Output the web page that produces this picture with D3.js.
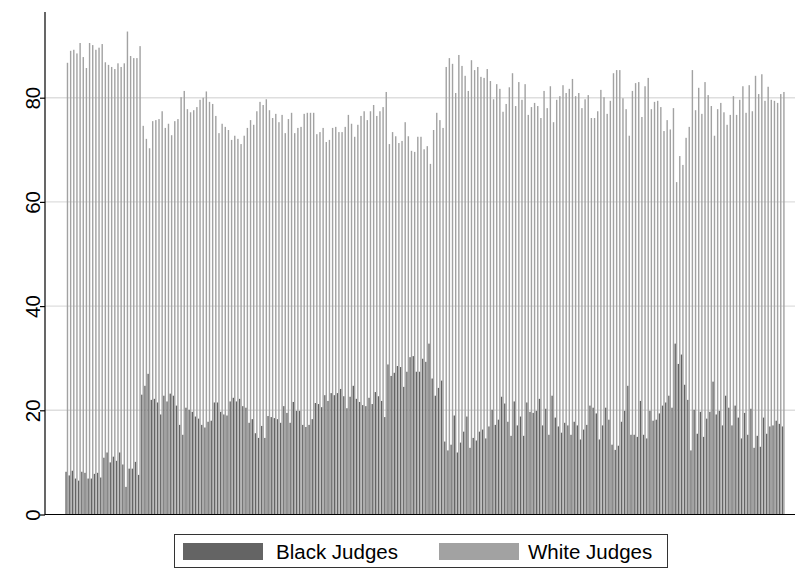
<!DOCTYPE html>
<html>
<head>
<meta charset="utf-8">
<script src="https://cdn.jsdelivr.net/npm/d3@7/dist/d3.min.js"></script>
<style>
  html, body { margin: 0; padding: 0; background: #fff; }
  svg { display: block; font-family: "Liberation Sans", Arial, Helvetica, sans-serif; }
</style>
</head>
<body>
<svg id="chart" width="795" height="570"></svg>
<script>
// ---- data ----
const seriesNames = ["Black Judges", "White Judges"];
const yTicks = [0, 20, 40, 60, 80];

const blackJudges = [
  8.2, 7.5, 8.4, 6.9, 6.5, 8.2, 8.0, 6.9, 6.9, 7.8,
  8.0, 7.1, 10.9, 11.9, 10.0, 11.1, 10.3, 11.9, 9.6, 5.3,
  8.8, 8.8, 10.1, 7.6, 23.0, 24.7, 27.0, 22.0, 22.2, 21.5,
  19.2, 22.8, 21.7, 23.2, 22.8, 20.9, 17.2, 15.3, 20.5, 20.1,
  19.7, 18.8, 18.4, 17.2, 16.7, 17.8, 18.0, 21.5, 21.5, 19.7,
  19.2, 19.0, 21.7, 22.4, 21.7, 22.2, 20.8,
  20.5, 17.6, 18.3, 15.6, 14.7, 17.0, 14.7, 18.9, 18.7, 18.5,
  18.3, 17.6, 20.8, 19.5, 17.6, 21.6, 19.9, 19.9, 17.2, 16.8,
  17.2, 18.3, 21.4, 21.2, 20.6, 22.9, 21.8, 23.3, 22.9, 23.3,
  24.1, 22.7, 20.4, 22.6, 24.7, 22.2, 21.6, 21.0, 20.8, 22.4,
  21.2, 23.5, 22.7, 21.8, 18.7, 28.8, 26.6, 27.2, 28.5, 28.3,
  24.5, 27.4, 30.2, 30.4, 27.4, 27.4, 29.9,
  29.3, 32.8, 26.1, 22.8, 24.3, 25.7, 14.0, 12.3, 13.4, 19.0,
  11.9, 13.8, 15.9, 18.8, 12.8, 14.7, 14.2, 15.9, 16.3, 14.6,
  16.9, 20.1, 17.2, 18.2, 22.6, 21.3, 17.8, 15.1, 21.7, 17.1,
  18.8, 15.1, 21.5, 19.7, 19.5, 19.9, 22.2, 17.1, 20.3, 15.3,
  22.8, 18.6, 16.9, 15.7, 17.6, 17.1, 15.3, 17.8, 17.1, 14.4,
  16.3, 17.2, 20.9, 20.5, 19.4, 14.4, 17.1,
  20.5, 18.2, 13.4, 12.4, 13.2, 17.8, 19.9, 24.7, 15.3, 15.3,
  14.9, 21.8, 15.3, 14.6, 19.9, 18.0, 18.2, 19.4, 20.9, 21.5,
  22.8, 20.5, 32.8, 28.9, 30.7, 24.9, 22.0, 12.3, 20.1, 15.5,
  19.7, 14.9, 18.4, 19.7, 25.5, 19.2, 19.9, 17.1, 22.8, 20.5,
  17.1, 20.9, 18.6, 14.6, 19.5, 15.3, 20.3, 12.8, 15.1, 13.0,
  18.6, 15.5, 16.9, 17.1, 18.0, 17.4, 16.9
];

const whiteJudges = [
  86.7, 89.0, 89.2, 88.5, 90.5, 87.8, 85.7, 90.5, 90.1, 89.2,
  89.6, 90.3, 86.8, 86.3, 85.9, 85.5, 86.6, 85.9, 86.6, 92.7,
  88.0, 87.6, 87.6, 89.9, 74.6, 72.1, 70.3, 75.5, 75.7, 75.9,
  77.4, 74.2, 75.0, 72.8, 75.5, 75.9, 80.1, 81.3, 77.8, 77.2,
  77.6, 78.2, 79.6, 80.0, 81.2, 79.2, 78.8, 76.5, 73.2, 75.0,
  74.4, 73.8, 71.9, 72.7, 72.1, 71.1, 72.7,
  74.2, 75.7, 74.8, 77.4, 79.2, 78.6, 79.7, 77.6, 76.1, 76.9,
  75.3, 76.7, 73.2, 75.9, 77.1, 73.2, 74.2, 74.4, 76.9, 77.1,
  77.1, 77.1, 73.0, 73.4, 74.2, 71.5, 71.9, 74.2, 74.4, 73.4,
  73.4, 74.4, 76.7, 75.0, 72.5, 74.8, 76.5, 77.4, 75.7, 77.4,
  78.6, 76.5, 77.4, 78.2, 81.1, 71.1, 73.4, 72.6, 71.3, 71.7,
  75.3, 72.6, 69.8, 69.6, 72.5, 72.5, 70.1,
  70.7, 67.3, 73.8, 77.1, 75.7, 74.2, 85.9, 87.6, 86.5, 80.9,
  88.2, 86.1, 84.2, 81.3, 87.2, 85.3, 85.9, 84.0, 83.8, 85.5,
  83.2, 79.7, 82.6, 81.7, 77.3, 78.8, 82.0, 84.7, 78.4, 83.0,
  79.6, 82.6, 76.7, 78.2, 79.0, 78.4, 76.1, 81.3, 78.0, 82.2,
  75.3, 79.6, 80.3, 82.4, 80.9, 81.7, 83.6, 80.3, 80.9, 78.0,
  79.7, 80.5, 76.1, 76.1, 77.4, 81.5, 80.1,
  76.9, 79.4, 84.7, 85.3, 85.3, 79.9, 77.8, 72.7, 81.3, 82.8,
  83.0, 76.3, 82.2, 83.8, 77.8, 79.2, 79.4, 78.2, 73.6, 75.7,
  73.9, 78.0, 63.8, 68.8, 67.1, 72.3, 74.4, 85.3, 77.6, 81.9,
  76.9, 83.0, 80.5, 78.4, 72.7, 77.8, 79.0, 77.2, 74.8, 76.7,
  80.3, 76.7, 79.6, 82.2, 77.1, 82.4, 77.4, 84.2, 80.7, 84.5,
  79.4, 82.1, 79.6, 79.4, 79.0, 80.7, 81.1
];

const categories = d3.range(1, blackJudges.length + 1);

// ---- layout ----
const svg = d3.select("#chart");
const axisX = 45;
const plotRight = 795;
const plotTop = 12;
const x0 = 65.2, x1 = 784.8;

const y = d3.scaleLinear().domain([0, 80]).range([514.5, 97.7]);

const x = d3.scaleBand().domain(categories).range([x0, x1])
  .paddingInner(0.11).paddingOuter(0.055);
const xs = d3.scaleBand().domain(seriesNames).range([0, x.bandwidth()]).padding(0);

const colors = d3.scaleOrdinal().domain(seriesNames).range(["#646464", "#a2a2a2"]);

// gridlines
svg.append("g").selectAll("line").data(yTicks.filter(d => d > 0)).join("line")
  .attr("x1", axisX).attr("x2", plotRight)
  .attr("y1", d => y(d)).attr("y2", d => y(d))
  .attr("stroke", "#dedede").attr("stroke-width", 1.4);

// bars
const rows = categories.map((c, i) => ({ c, values: [
  { s: seriesNames[0], v: blackJudges[i] },
  { s: seriesNames[1], v: whiteJudges[i] }
]}));

svg.append("g").selectAll("g").data(rows).join("g")
  .attr("transform", d => `translate(${x(d.c)},0)`)
  .selectAll("rect").data(d => d.values).join("rect")
  .attr("x", d => xs(d.s))
  .attr("width", xs.bandwidth())
  .attr("y", d => y(d.v))
  .attr("height", d => y(0) - y(d.v))
  .attr("fill", d => colors(d.s));

// x axis line
svg.append("line")
  .attr("x1", axisX).attr("x2", plotRight)
  .attr("y1", y(0)).attr("y2", y(0))
  .attr("stroke", "#000").attr("stroke-width", 1.2);

// y axis
const yAxis = d3.axisLeft(y).tickValues(yTicks).tickSize(5).tickFormat(d3.format("d"));
const gy = svg.append("g").attr("transform", `translate(${axisX},0)`).call(yAxis);
gy.select(".domain").remove();
gy.selectAll(".tick line").attr("stroke", "#000").attr("stroke-width", 1.2);
gy.selectAll(".tick text")
  .attr("transform", "rotate(-90)")
  .attr("x", 0).attr("y", -5).attr("dy", 0)
  .attr("text-anchor", "middle")
  .attr("fill", "#000")
  .style("font-size", "20.5px")
  .style("font-family", "'Liberation Sans', Arial, Helvetica, sans-serif");
svg.append("line")
  .attr("x1", axisX).attr("x2", axisX)
  .attr("y1", plotTop).attr("y2", y(0) + 0.6)
  .attr("stroke", "#000").attr("stroke-width", 1.2);

// legend
const lg = svg.append("g");
lg.append("rect").attr("x", 174.5).attr("y", 534.5).attr("width", 493).attr("height", 33)
  .attr("fill", "#fff").attr("stroke", "#333").attr("stroke-width", 1);
const items = [
  { s: seriesNames[0], sx: 183, tx: 276 },
  { s: seriesNames[1], sx: 439, tx: 528 }
];
lg.selectAll("rect.sw").data(items).join("rect").attr("class", "sw")
  .attr("x", d => d.sx).attr("y", 543).attr("width", 80).attr("height", 17)
  .attr("fill", d => colors(d.s));
lg.selectAll("text").data(items).join("text")
  .attr("x", d => d.tx).attr("y", 559)
  .attr("fill", "#000")
  .style("font-size", "20.5px")
  .text(d => d.s);
</script>
</body>
</html>
